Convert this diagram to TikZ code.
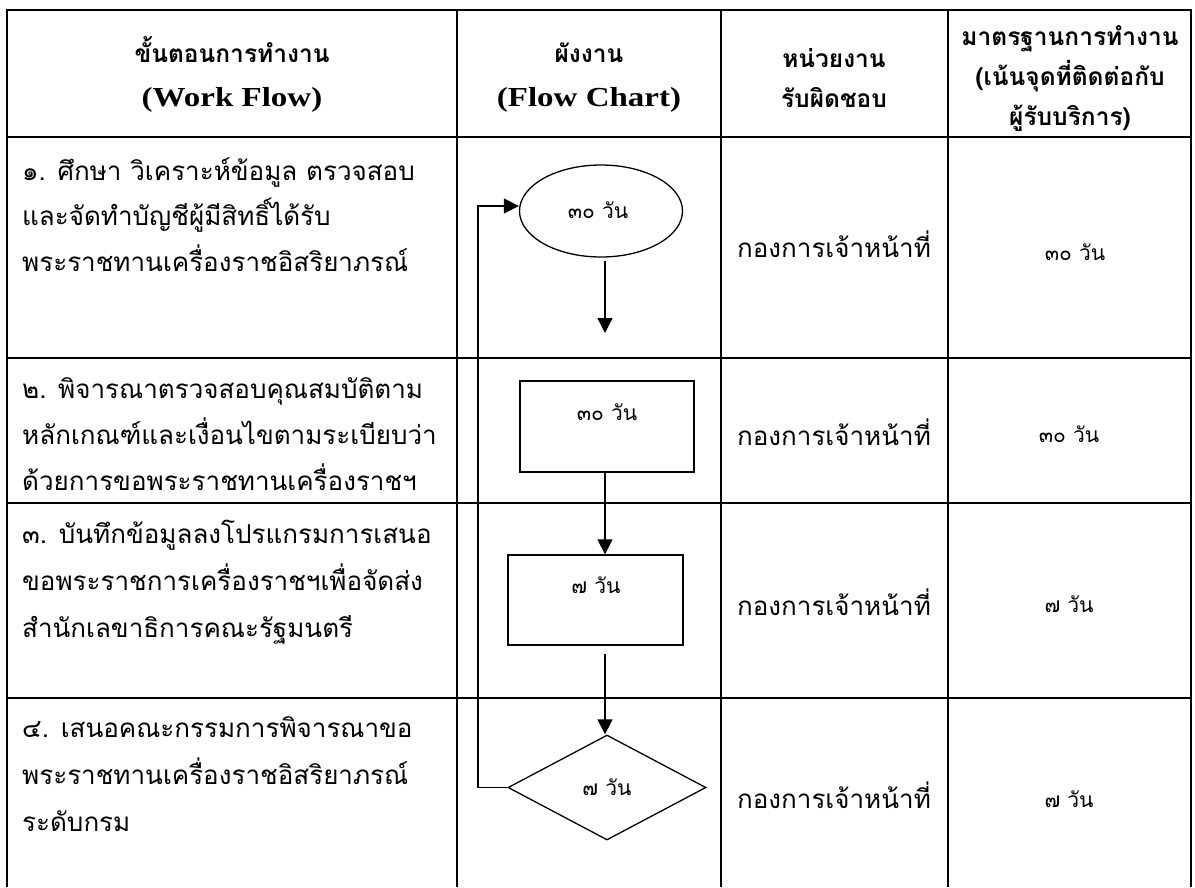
\documentclass[tikz,border=0pt]{standalone}
\usepackage{fontspec}
\newfontfamily\thai[Script=Thai]{Loma}
\newfontfamily\tnr[FakeStretch=1.2]{Liberation Serif}
\usetikzlibrary{shapes.geometric,arrows.meta}
\begin{document}
\begin{tikzpicture}[x=1pt,y=-1pt,
 grid/.style={line width=2pt},
 body/.style={font=\thai\fontsize{26}{30}\selectfont, inner sep=0pt, anchor=base west},
 cbody/.style={font=\thai\fontsize{26}{30}\selectfont, inner sep=0pt, anchor=base},
 small/.style={font=\thai\fontsize{21}{24}\selectfont, inner sep=0pt, anchor=base},
 head/.style={font=\thai\bfseries\fontsize{24.5}{28}\selectfont, inner sep=0pt, anchor=base},
 headen/.style={font=\tnr\bfseries\fontsize{27.5}{30}\selectfont, inner sep=0pt, anchor=base},
 fshape/.style={draw, line width=1.3pt, inner sep=0pt},
 flow/.style={line width=1.3pt, -{Triangle[length=15pt,width=15pt]}},
]
\useasboundingbox (0,0) rectangle (1195,887);
% table grid
\draw[grid] (7,887) -- (7,10) -- (1191,10) -- (1191,887);
\draw[grid] (457,10) -- (457,887);
\draw[grid] (721,10) -- (721,887);
\draw[grid] (948,10) -- (948,887);
\draw[grid] (7,137) -- (1191,137);
\draw[grid] (7,358) -- (1191,358);
\draw[grid] (7,503) -- (1191,503);
\draw[grid] (7,698) -- (1191,698);
% header
\node[head] (h1a) at (232,62) {ขั้นตอนการทำงาน};
\node[headen] (h1b) at (232,106) {(Work Flow)};
\node[head] (h2a) at (589,62) {ผังงาน};
\node[headen] (h2b) at (589,106) {(Flow Chart)};
\node[head] (h3a) at (834,67) {หน่วยงาน};
\node[head] (h3b) at (834,107) {รับผิดชอบ};
\node[head] (h4a) at (1070,45) {มาตรฐานการทำงาน};
\node[head] (h4b) at (1070,85) {(เน้นจุดที่ติดต่อกับ};
\node[head] (h4c) at (1070,125) {ผู้รับบริการ)};
% column 1
\node[body] (s1a) at (22,180) {๑. ศึกษา วิเคราะห์ข้อมูล ตรวจสอบ};
\node[body] (s1b) at (22,225) {และจัดทำบัญชีผู้มีสิทธิ์ได้รับ};
\node[body] (s1c) at (22,271) {พระราชทานเครื่องราชอิสริยาภรณ์};
\node[body] (s2a) at (22,398) {๒. พิจารณาตรวจสอบคุณสมบัติตาม};
\node[body] (s2b) at (22,444) {หลักเกณฑ์และเงื่อนไขตามระเบียบว่า};
\node[body] (s2c) at (22,490) {ด้วยการขอพระราชทานเครื่องราชฯ};
\node[body] (s3a) at (22,543) {๓. บันทึกข้อมูลลงโปรแกรมการเสนอ};
\node[body] (s3b) at (22,590) {ขอพระราชการเครื่องราชฯเพื่อจัดส่ง};
\node[body] (s3c) at (22,637) {สำนักเลขาธิการคณะรัฐมนตรี};
\node[body] (s4a) at (22,737) {๔. เสนอคณะกรรมการพิจารณาขอ};
\node[body] (s4b) at (22,784) {พระราชทานเครื่องราชอิสริยาภรณ์};
\node[body] (s4c) at (22,831) {ระดับกรม};
% column 3
\node[cbody] (u1) at (834,257) {กองการเจ้าหน้าที่};
\node[cbody] (u2) at (834,445) {กองการเจ้าหน้าที่};
\node[cbody] (u3) at (834,615) {กองการเจ้าหน้าที่};
\node[cbody] (u4) at (834,808) {กองการเจ้าหน้าที่};
% column 4
\node[small] (t1) at (1075,260) {๓๐ วัน};
\node[small] (t2) at (1069,442) {๓๐ วัน};
\node[small] (t3) at (1069,612) {๗ วัน};
\node[small] (t4) at (1069,807) {๗ วัน};
% flow chart shapes
\node[fshape, ellipse, minimum width=163pt, minimum height=92pt] (e1) at (601,211) {};
\node[small] (e1t) at (598,218) {๓๐ วัน};
\node[fshape, rectangle, minimum width=174pt, minimum height=91pt] (r2) at (607,426.5) {};
\node[small] (r2t) at (607,420) {๓๐ วัน};
\node[fshape, rectangle, minimum width=175pt, minimum height=90pt] (r3) at (595.5,600) {};
\node[small] (r3t) at (596,593) {๗ วัน};
\node[fshape, diamond, minimum width=198pt, minimum height=105pt] (d4) at (607,787.5) {};
\node[small] (d4t) at (607,795) {๗ วัน};
% connectors
\coordinate (cx) at (605,0);
\coordinate (lp) at (478,0);
\coordinate (a1end) at (605,333);
\draw[flow] ([yshift=-3pt]e1.south -| cx) -- (a1end);
\draw[flow] (r2.south -| cx) -- (r3.north -| cx);
\draw[flow] ([yshift=-8pt]r3.south -| cx) -- (d4.north -| cx);
\draw[flow] (d4.west) -- (d4.west -| lp) |- ([yshift=5pt]e1.west);
\end{tikzpicture}
\end{document}
